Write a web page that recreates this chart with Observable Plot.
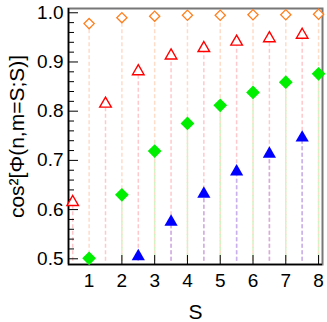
<!DOCTYPE html>
<html><head><meta charset="utf-8">
<script src="https://cdn.jsdelivr.net/npm/d3@7"></script>
<script src="https://cdn.jsdelivr.net/npm/@observablehq/plot@0.6"></script>
<style>
body{margin:0;background:#fff;font-family:"Liberation Sans",Arial,sans-serif}
svg [aria-label="y-axis label"] text{font-size:21px}
svg [aria-label="x-axis label"] text{font-size:21px}
svg [aria-label="y-axis tick label"] text{font-size:19px}
svg [aria-label="x-axis tick label"] text{font-size:19px}
</style>
</head><body><div id="chart"></div>
<script>
const sInt = [1, 2, 3, 4, 5, 6, 7, 8];
const sHalf = [0.5, 1.5, 2.5, 3.5, 4.5, 5.5, 6.5, 7.5];
const orangeVals = [0.978, 0.990, 0.993, 0.995, 0.995, 0.996, 0.996, 0.997];
const redVals = [0.615, 0.815, 0.881, 0.913, 0.928, 0.941, 0.948, 0.955];
const greenVals = [0.501, 0.630, 0.719, 0.775, 0.812, 0.838, 0.859, 0.876];
const blueS = [2.5, 3.5, 4.5, 5.5, 6.5, 7.5];
const blueVals = [0.505, 0.575, 0.632, 0.677, 0.713, 0.746];
const yMajor = [0.5, 0.6, 0.7, 0.8, 0.9, 1.0];
const yMinor = [0.52,0.54,0.56,0.58,0.62,0.64,0.66,0.68,0.72,0.74,0.76,0.78,0.82,0.84,0.86,0.88,0.92,0.94,0.96,0.98];
const xTicks = [1, 2, 3, 4, 5, 6, 7, 8];
const xDomain = [0.371, 8.12];
const yDomain = [0.4884, 1.0087];
const yBase = 0.495;

const orange = sInt.map((s, i) => ({s, v: orangeVals[i]}));
const red = sHalf.map((s, i) => ({s, v: redVals[i]}));
const green = sInt.map((s, i) => ({s, v: greenVals[i]}));
const blue = blueS.map((s, i) => ({s, v: blueVals[i]}));

const W = 327, H = 322, mL = 68, mR = 5, mT = 8, mB = 58;
const pw = W - mL - mR, ph = H - mT - mB;
const dash = "4,2.5";

const chart = Plot.plot({
  width: W, height: H,
  marginLeft: mL, marginRight: mR, marginTop: mT, marginBottom: mB,
  style: {fontFamily: "'Liberation Sans', Arial, sans-serif", background: "#fff"},
  x: {domain: xDomain},
  y: {domain: yDomain},
  marks: [
    Plot.ruleX(orange, {x: "s", y1: yBase, y2: "v", stroke: "#ffdcc8", strokeWidth: 1.5, strokeDasharray: dash}),
    Plot.ruleX(red, {x: "s", y1: yBase, y2: "v", stroke: "#ffc8cc", strokeWidth: 1.5, strokeDasharray: dash}),
    Plot.ruleX(green, {x: "s", y1: yBase, y2: "v", stroke: "#d2f4c2", strokeWidth: 1.5, strokeDasharray: dash, strokeDashoffset: 3}),
    Plot.ruleX(blue, {x: "s", y1: yBase, y2: "v", stroke: "#c8b0ec", strokeWidth: 1.5, strokeDasharray: dash}),
    Plot.frame({stroke: "#777", strokeWidth: 2}),
    Plot.ruleX([xDomain[0]], {stroke: "#000", strokeWidth: 1.5}),
    Plot.ruleY([yDomain[0]], {stroke: "#000", strokeWidth: 1.5}),
    Plot.tickY(yMajor, {y: d => d, stroke: "#000", strokeWidth: 1, insetRight: pw - 10}),
    Plot.tickY(yMinor, {y: d => d, stroke: "#000", strokeWidth: 1, insetRight: pw - 6}),
    Plot.tickX(xTicks, {x: d => d, stroke: "#000", strokeWidth: 1, insetTop: ph - 9}),
    Plot.axisY(yMajor, {tickSize: 0, tickPadding: 5, fontSize: 19, tickFormat: d3.format(".1f"),
      label: "cos²[Φ(n,m=S;S)]", labelAnchor: "center", labelArrow: "none", labelOffset: 59}),
    Plot.axisX(xTicks, {tickSize: 0, tickPadding: 9, fontSize: 19, tickFormat: d3.format("d"),
      label: "S", labelAnchor: "center", labelArrow: "none", labelOffset: 54}),
    Plot.dot(orange, {x: "s", y: "v", symbol: "diamond2", r: 4.6, stroke: "#ff7f1e", fill: "#fff", strokeWidth: 1.3}),
    Plot.dot(red, {x: "s", y: "v", symbol: "triangle", r: 4.3, stroke: "#ff0000", fill: "#fff", strokeWidth: 1.4}),
    Plot.dot(green, {x: "s", y: "v", symbol: "diamond2", r: 6.2, fill: "#00ee00", stroke: "none"}),
    Plot.dot(blue, {x: "s", y: "v", symbol: "triangle", r: 4.9, fill: "#0000ff", stroke: "none"})
  ]
});
document.getElementById("chart").appendChild(chart);
</script></body></html>
